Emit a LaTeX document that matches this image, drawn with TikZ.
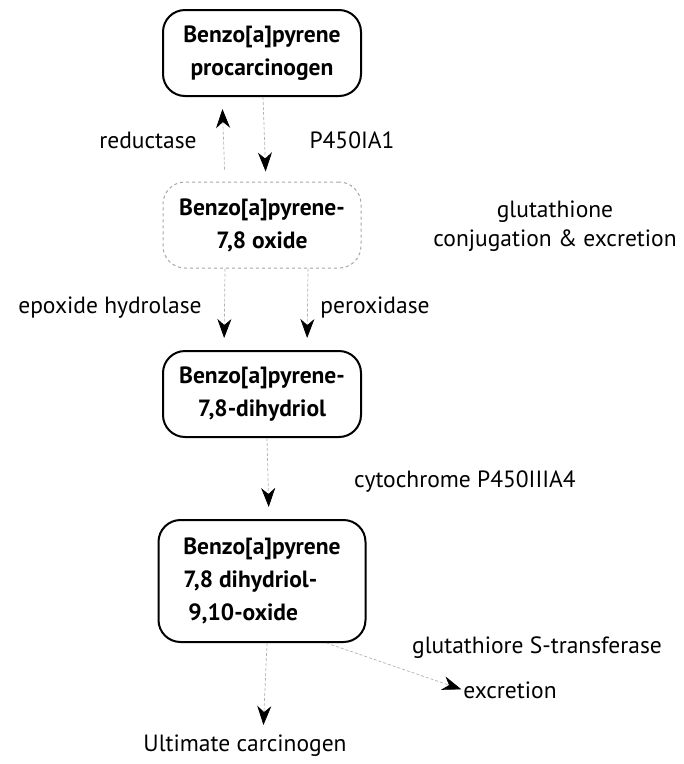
\documentclass[tikz,border=0pt]{standalone}
\usepackage{fontspec}
\setmainfont{PT Sans}
\usetikzlibrary{positioning}
\usetikzlibrary{shapes,arrows.meta}

\begin{document}
\begin{tikzpicture}[x=1pt, y=-1pt, node distance=172pt]
\tikzstyle{box}=[draw=black, line width=2pt, rounded corners=22pt, fill=white, minimum width=198pt, minimum height=86pt, align=center, inner sep=1pt, font=\bfseries\fontsize{23.5}{33}\selectfont]
\tikzstyle{lbl}=[align=center, inner sep=0pt, font=\fontsize{23.5}{29}\selectfont]
\tikzstyle{flow}=[-{Stealth[length=19pt,width=14pt,inset=6pt,black]}, draw=gray!60, line width=0.7pt, densely dashed]
\useasboundingbox (0,0) rectangle (684,764);

\node[box]    (b1) at (262,53)    {Benzo[a]pyrene\\procarcinogen};
\node[box, draw=gray!70, dashed, line width=1pt]    (b2)[below of = b1]    {Benzo[a]pyrene-\\7,8 oxide};
\node[box, node distance=169pt]    (b3)[below of = b2]    {Benzo[a]pyrene-\\7,8-dihydriol};
\node[box, node distance=187pt, minimum width=207pt, minimum height=122pt, align=left]    (b4)[below of = b3]    {Benzo[a]pyrene\\7,8 dihydriol-\\\hspace*{5pt}9,10-oxide};

% enzyme labels
\node[lbl]    (lred) at (148,140)    {reductase};
\node[lbl]    (lp1) at (352,140)    {P450IA1};
\node[lbl]    (lglu) at (555,226)    {glutathione\\conjugation \& excretion};
\node[lbl]    (lepo) at (110,308)    {epoxide hydrolase};
\node[lbl]    (lper) at (375,308)    {peroxidase};
\node[lbl]    (lcyt) at (465,482)    {cytochrome P450IIIA4};
\node[lbl]    (lgst) at (537,648)    {glutathiore S-transferase};
\node[lbl]    (exc) at (510,690)    {excretion};
\node[lbl]    (ult) at (245,746)    {Ultimate carcinogen};

\draw[flow, shorten >=10pt]    ([xshift=1pt]b1.south) -- ([xshift=4pt]b2.north);
\draw[flow, shorten <=12pt, shorten >=12pt]    ([xshift=-37pt]b2.north) -- ([xshift=-40pt]b1.south);
\draw[flow, shorten >=12pt]    ([xshift=-37pt]b2.south) -- ([xshift=-38pt]b3.north);
\draw[flow, shorten >=12pt]    ([xshift=46pt]b2.south) -- ([xshift=45pt]b3.north);
\draw[flow, shorten >=12pt]    ([xshift=5pt]b3.south) -- ([xshift=7pt]b4.north);
\draw[flow, shorten >=2pt]    ([xshift=-40pt]b4.south east) -- (exc.west);
\draw[flow, shorten >=10pt]    ([xshift=5pt]b4.south) -- ([xshift=18pt]ult.north);
\end{tikzpicture}
\end{document}
